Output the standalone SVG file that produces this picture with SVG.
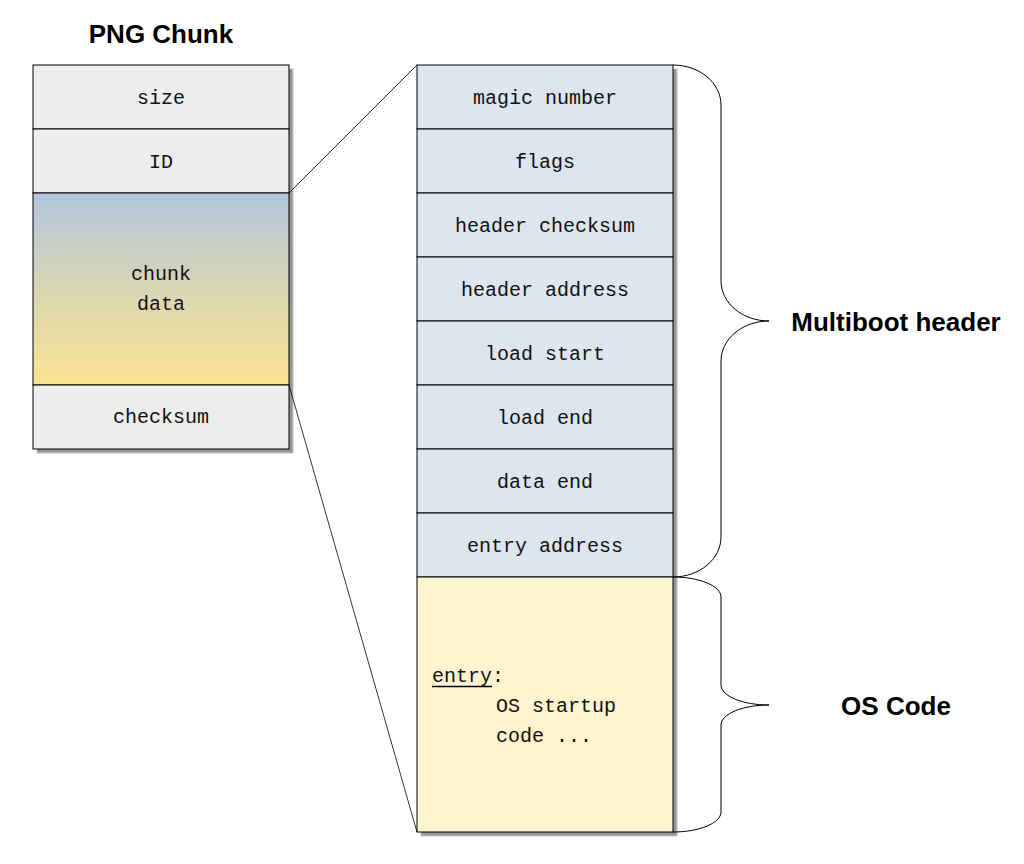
<svg xmlns="http://www.w3.org/2000/svg" width="1024" height="864" viewBox="0 0 1024 864">
<defs>
<linearGradient id="gData" x1="0" y1="0" x2="0" y2="1">
<stop offset="0" stop-color="#b2c6dc"/>
<stop offset="1" stop-color="#fde58f"/>
</linearGradient>
<style>
.shadow{fill:#969696;stroke:#c4c4c4;stroke-width:1}
.cell{stroke:#000;stroke-width:1}
.grey{fill:#ededed}
.blue{fill:#dde5ef}
.yellow{fill:#fef4d0}
.mono{font-family:"Liberation Mono","DejaVu Sans Mono",monospace;font-size:20px;fill:#111}
.title{font-family:"Liberation Sans","DejaVu Sans",sans-serif;font-size:26px;font-weight:bold;fill:#000}
.conn{fill:none;stroke:#000;stroke-width:0.8}
.brace{fill:none;stroke:#000;stroke-width:1}
</style>
</defs>
<rect width="1024" height="864" fill="#fff"/>

<!-- shadows -->
<g id="shadows">
<rect class="shadow" x="37" y="69" width="256" height="384"/>
<rect class="shadow" x="421" y="69" width="256" height="767"/>
</g>

<text class="title" x="161" y="43" text-anchor="middle">PNG Chunk</text>

<g id="png-size"><rect class="cell grey" x="33" y="65" width="256" height="64"/><text class="mono" x="161" y="104" text-anchor="middle">size</text></g>
<g id="png-id"><rect class="cell grey" x="33" y="129" width="256" height="64"/><text class="mono" x="161" y="168" text-anchor="middle">ID</text></g>
<g id="png-data"><rect class="cell" fill="url(#gData)" x="33" y="193" width="256" height="192"/><text class="mono" x="161" y="280" text-anchor="middle">chunk</text><text class="mono" x="161" y="310" text-anchor="middle">data</text></g>
<g id="png-checksum"><rect class="cell grey" x="33" y="385" width="256" height="64"/><text class="mono" x="161" y="423" text-anchor="middle">checksum</text></g>

<g id="mb-magic"><rect class="cell blue" x="417" y="65" width="256" height="64"/><text class="mono" x="545" y="104" text-anchor="middle">magic number</text></g>
<g id="mb-flags"><rect class="cell blue" x="417" y="129" width="256" height="64"/><text class="mono" x="545" y="168" text-anchor="middle">flags</text></g>
<g id="mb-hchecksum"><rect class="cell blue" x="417" y="193" width="256" height="64"/><text class="mono" x="545" y="232" text-anchor="middle">header checksum</text></g>
<g id="mb-haddr"><rect class="cell blue" x="417" y="257" width="256" height="64"/><text class="mono" x="545" y="296" text-anchor="middle">header address</text></g>
<g id="mb-lstart"><rect class="cell blue" x="417" y="321" width="256" height="64"/><text class="mono" x="545" y="360" text-anchor="middle">load start</text></g>
<g id="mb-lend"><rect class="cell blue" x="417" y="385" width="256" height="64"/><text class="mono" x="545" y="424" text-anchor="middle">load end</text></g>
<g id="mb-dend"><rect class="cell blue" x="417" y="449" width="256" height="64"/><text class="mono" x="545" y="488" text-anchor="middle">data end</text></g>
<g id="mb-entry"><rect class="cell blue" x="417" y="513" width="256" height="64"/><text class="mono" x="545" y="552" text-anchor="middle">entry address</text></g>
<g id="os-code"><rect class="cell yellow" x="417" y="577" width="256" height="255"/>
<text class="mono" x="432" y="682">entry:</text>
<line x1="432" y1="686.5" x2="492" y2="686.5" stroke="#000" stroke-width="1.6"/>
<text class="mono" x="496" y="712">OS startup</text>
<text class="mono" x="496" y="742">code ...</text>
</g>

<g id="connectors">
<line class="conn" x1="289" y1="193" x2="417" y2="65"/>
<line class="conn" x1="289" y1="385" x2="417" y2="832"/>
<path class="brace" d="M673 65 C699.5 65 721 82.9 721 105 L721 281 C721 303.1 742.5 321 769 321 C742.5 321 721 338.9 721 361 L721 537 C721 559.1 699.5 577 673 577"/>
<path class="brace" d="M673 577 C699.5 577 721 586 721 597 L721 685 C721 696 742.5 705 769 705 C742.5 705 721 714 721 725 L721 812 C721 823 699.5 832 673 832"/>
</g>

<g id="label-multiboot"><text class="title" x="896" y="331" text-anchor="middle">Multiboot header</text></g>
<g id="label-os"><text class="title" x="896" y="715" text-anchor="middle">OS Code</text></g>
</svg>
